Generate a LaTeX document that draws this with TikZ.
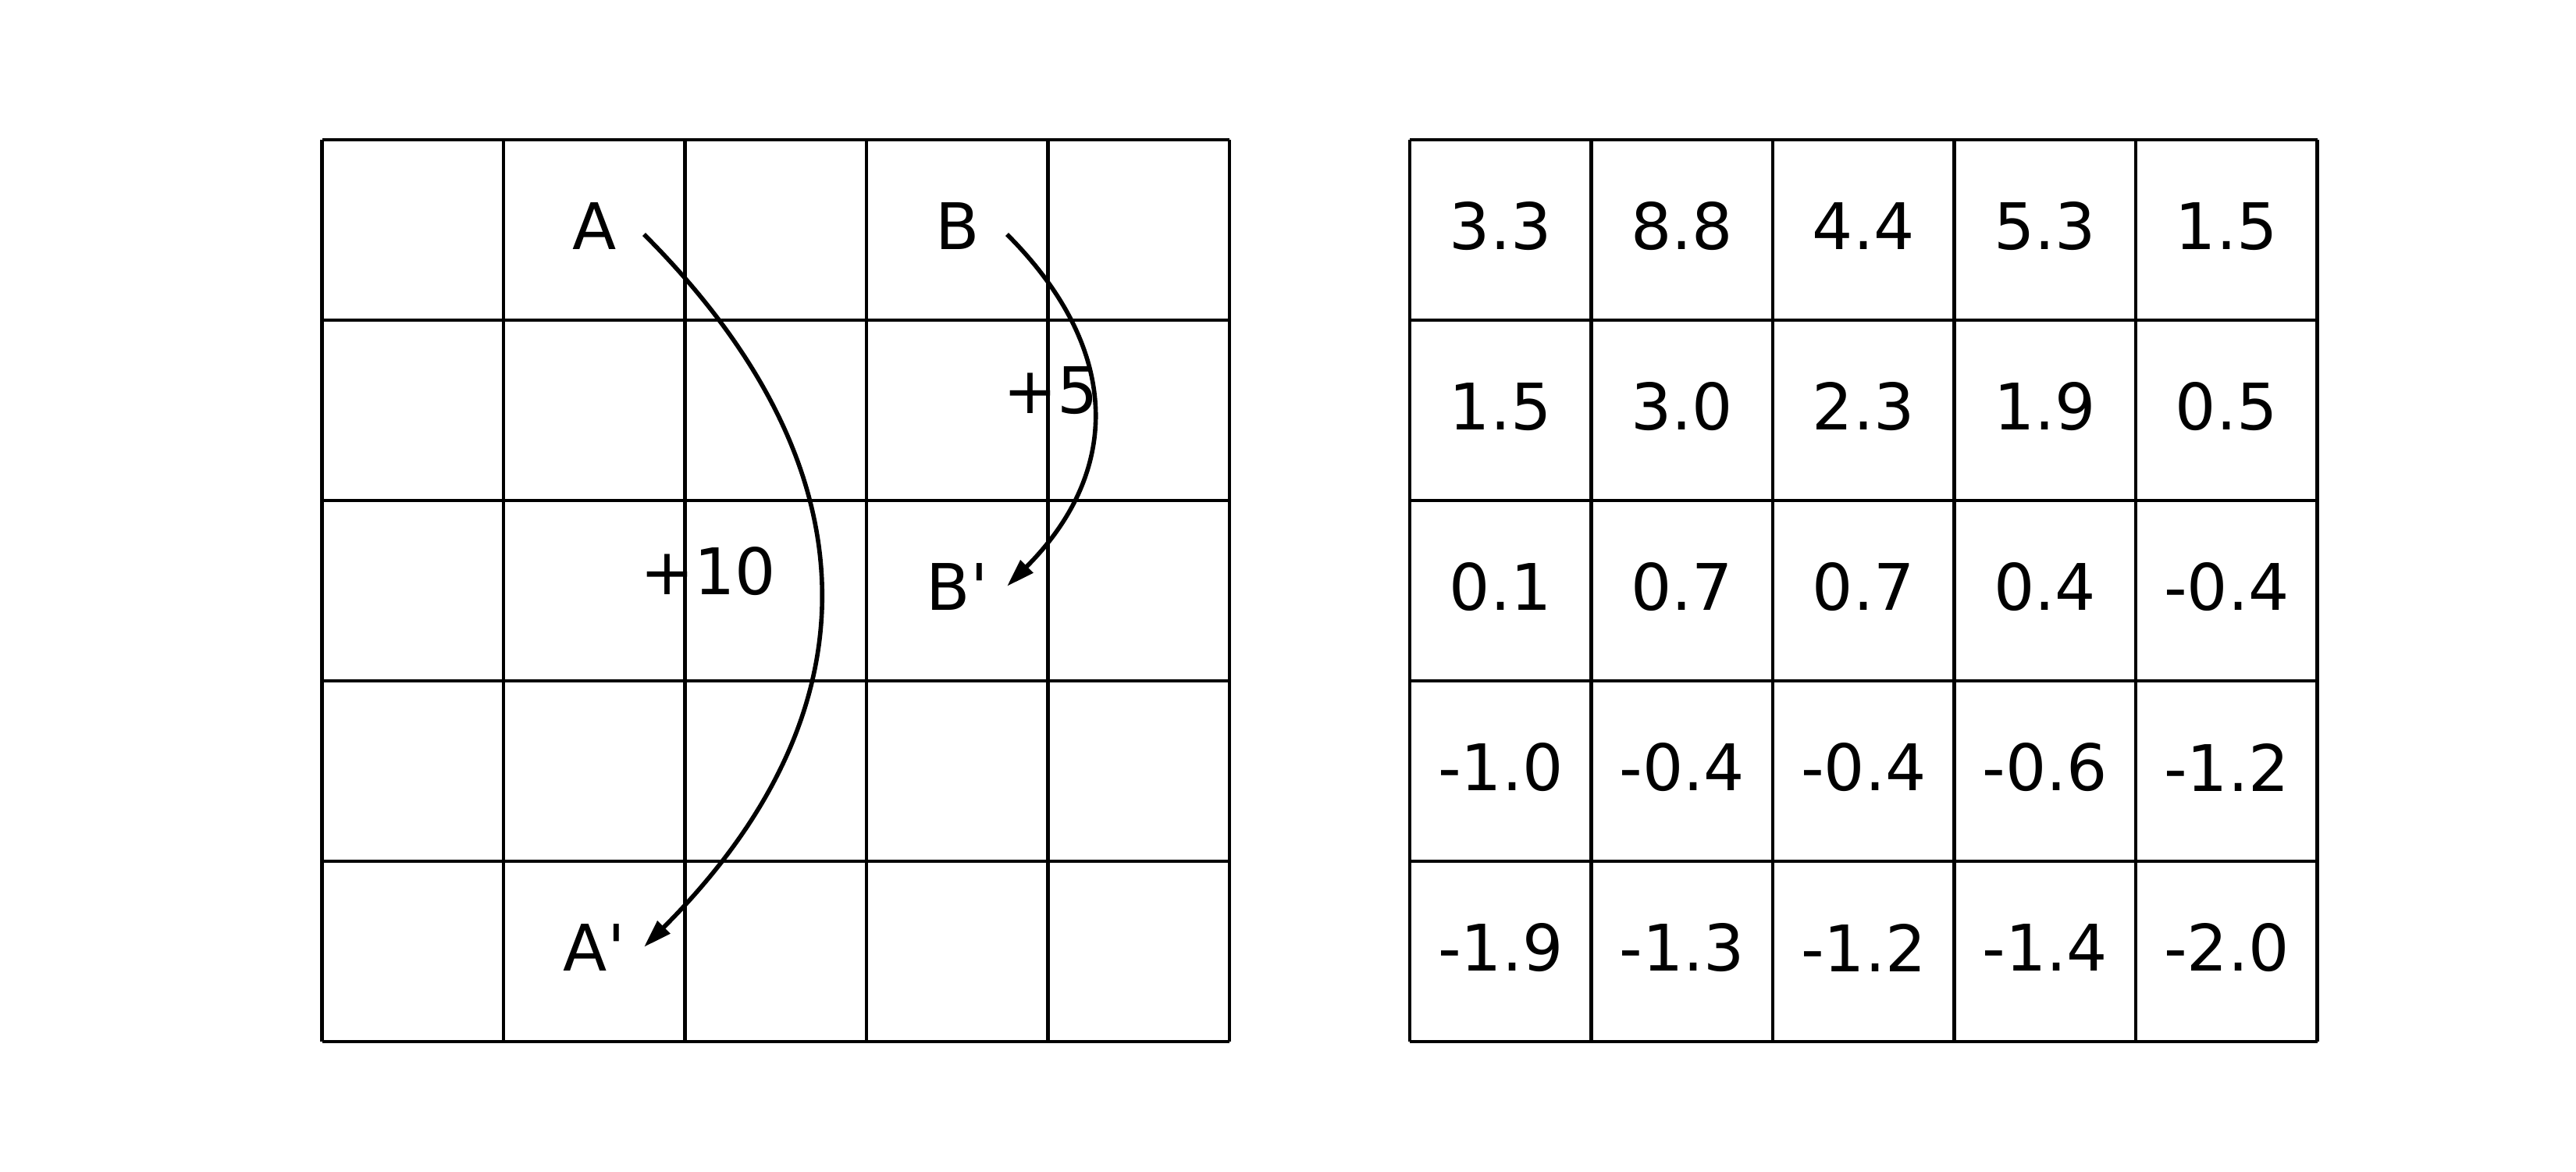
\documentclass[tikz,border=0pt]{standalone}
\usepackage{fontspec}
\setmainfont{DejaVu Sans}
\usetikzlibrary{arrows.meta,calc}

\begin{document}
\begin{tikzpicture}[
    gridline/.style={line width=1.2pt},
    move/.style={line width=1.6pt,-{Triangle[length=3.6mm,width=2.2mm]},
        shorten <=0.8mm,shorten >=0.8mm,bend left=45,looseness=1.2},
    cell/.style={font=\fontsize{23.4}{28}\selectfont,inner sep=0pt},
    shiftlabel/.style={cell,anchor=west}]
    \useasboundingbox (0,0) rectangle (33,15);

    % Left grid: moves
    \begin{scope}[shift={(4.125,13.21)},x=2.325cm,y=-2.31cm]
        \foreach \k in {0,...,5} {
            \draw[gridline] (\k,0) -- (\k,5);
            \draw[gridline] (0,\k) -- (5,\k);
        }
        \node[cell] (A)  at (1.5,0.48) {A};
        \node[cell] (B)  at (3.5,0.48) {B};
        \node[cell] (B') at (3.5,2.48) {B\textquotesingle};
        \node[cell] (A') at (1.5,4.48) {A\textquotesingle};
        \coordinate (a0) at (1.75,0.5);
        \coordinate (a1) at (1.75,4.5);
        \coordinate (b0) at (3.75,0.5);
        \coordinate (b1) at (3.75,2.5);
        \node[shiftlabel] (plusA) at (1.75,2.39) {+10};
        \node[shiftlabel] (plusB) at (3.75,1.39) {+5};
    \end{scope}
    \draw[move] (a0) to (a1);
    \draw[move] (b0) to (b1);

    % Right grid: values
    \begin{scope}[shift={(18.06,13.21)},x=2.325cm,y=-2.31cm]
        \foreach \k in {0,...,5} {
            \draw[gridline] (\k,0) -- (\k,5);
            \draw[gridline] (0,\k) -- (5,\k);
        }
        \foreach \row [count=\j from 0] in {
            {3.3,8.8,4.4,5.3,1.5},
            {1.5,3.0,2.3,1.9,0.5},
            {0.1,0.7,0.7,0.4,-0.4},
            {-1.0,-0.4,-0.4,-0.6,-1.2},
            {-1.9,-1.3,-1.2,-1.4,-2.0}} {
            \foreach \v [count=\i from 0] in \row
                \node[cell] (v-\j-\i) at (\i+0.5,\j+0.48) {\v};
        }
    \end{scope}
\end{tikzpicture}
\end{document}
